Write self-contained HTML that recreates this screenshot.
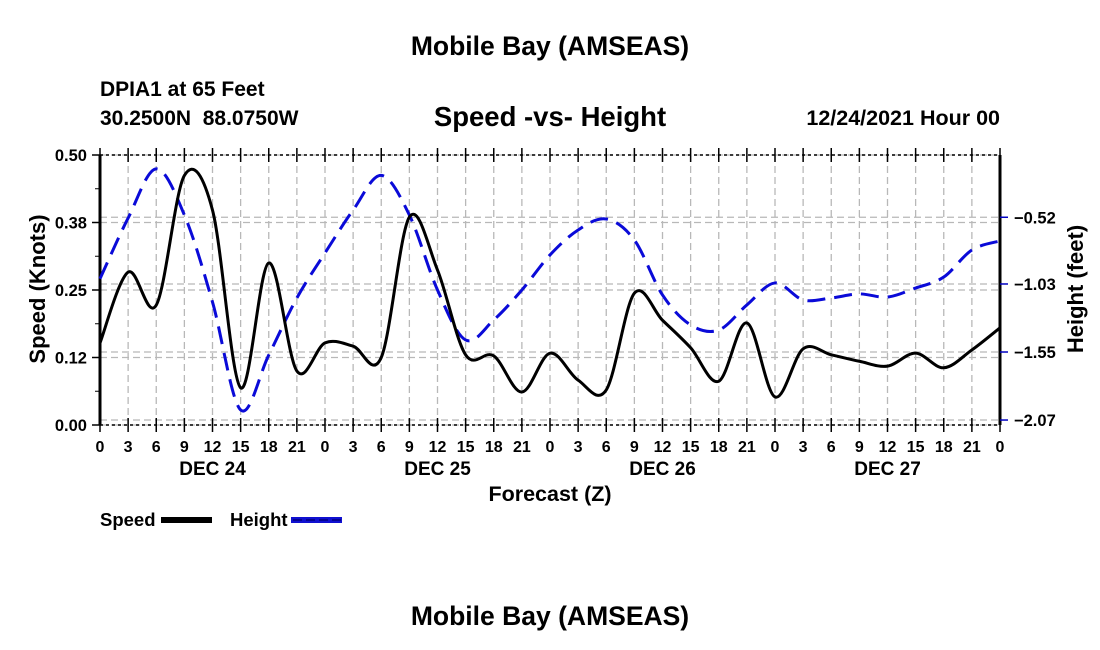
<!DOCTYPE html>
<html><head><meta charset="utf-8"><style>
html,body{margin:0;padding:0;background:#fff;}
svg{display:block;font-family:"Liberation Sans",sans-serif;font-weight:bold;}
</style></head><body>
<svg id="chart" width="1100" height="650" viewBox="0 0 1100 650" xmlns="http://www.w3.org/2000/svg">
<text x="550" y="55" text-anchor="middle" font-size="26.5">Mobile Bay (AMSEAS)</text>
<text x="100" y="96" font-size="21">DPIA1 at 65 Feet</text>
<text x="100" y="125" font-size="21" xml:space="preserve" style="white-space:pre">30.2500N  88.0750W</text>
<text x="550" y="126" text-anchor="middle" font-size="27.5">Speed -vs- Height</text>
<text x="1000" y="125" text-anchor="end" font-size="21.5">12/24/2021 Hour 00</text>
<g id="grid"></g>
<g id="axes"></g>
<g id="series"></g>
<text transform="translate(45,289) rotate(-90)" text-anchor="middle" font-size="22">Speed (Knots)</text>
<text transform="translate(1083,289) rotate(-90)" text-anchor="middle" font-size="22">Height (feet)</text>
<text x="550" y="501" text-anchor="middle" font-size="21.5">Forecast (Z)</text>
<g>
<text x="100" y="526" font-size="18.5">Speed</text>
<rect x="161" y="517" width="51" height="6" fill="#000"/>
<text x="230" y="526" font-size="18.5">Height</text>
<rect x="291" y="517" width="51" height="6" fill="#1010d0"/>
<line x1="293" y1="520" x2="342" y2="520" stroke="#000080" stroke-width="1.5" stroke-dasharray="9,4"/>
</g>
<text x="550" y="625" text-anchor="middle" font-size="26.5">Mobile Bay (AMSEAS)</text>
</svg>
<script>
const hours = [0,3,6,9,12,15,18,21,24,27,30,33,36,39,42,45,48,51,54,57,60,63,66,69,72,75,78,81,84,87,90,93,96];
const speedValues = [0.152,0.283,0.222,0.462,0.398,0.069,0.300,0.100,0.152,0.146,0.125,0.385,0.287,0.130,0.128,0.061,0.133,0.083,0.065,0.244,0.194,0.143,0.081,0.189,0.052,0.141,0.130,0.118,0.109,0.133,0.106,0.139,0.180];
const heightValues = [-0.99,-0.526,-0.15,-0.503,-1.168,-1.993,-1.573,-1.137,-0.793,-0.465,-0.20,-0.503,-1.076,-1.458,-1.305,-1.076,-0.808,-0.617,-0.533,-0.694,-1.114,-1.343,-1.382,-1.19,-1.022,-1.152,-1.137,-1.106,-1.13,-1.061,-0.977,-0.77,-0.701];
const xTickLabels = ["0","3","6","9","12","15","18","21"];
const dayLabels = ["DEC 24","DEC 25","DEC 26","DEC 27"];
const speedTicks = [0,0.125,0.25,0.375,0.5];
const speedTickLabels = ["0.00","0.12","0.25","0.38","0.50"];
const heightTicks = [-2.07,-1.55,-1.03,-0.52];
const heightTickLabels = ["\u22122.07","\u22121.55","\u22121.03","\u22120.52"];

const NS="http://www.w3.org/2000/svg";
const L=100,R=1000,T=155,B=425;
const hMin=-2.108,hMax=-0.044;
const xs=h=>L+(h/96)*(R-L);
const ys=v=>B-(v/0.5)*(B-T);
const yh=v=>B-(v-hMin)/(hMax-hMin)*(B-T);
function mk(tag,attrs,parent){const e=document.createElementNS(NS,tag);for(const k in attrs)e.setAttribute(k,attrs[k]);parent.appendChild(e);return e;}
const grid=document.getElementById('grid'),axes=document.getElementById('axes'),series=document.getElementById('series');

for(let i=1;i<32;i++){
  const l=mk('line',{x1:xs(i*3),x2:xs(i*3),y1:T,y2:B,stroke:'#b8b8b8','stroke-width':1.3,'stroke-dasharray':'7,4'},grid);
  
  
}
speedTicks.forEach(v=>{
  const l=mk('line',{x1:L,x2:R,y1:ys(v),y2:ys(v),stroke:'#b8b8b8','stroke-width':1.3,'stroke-dasharray':'7,4'},grid);
  
  
});
heightTicks.forEach(v=>{
  const l=mk('line',{x1:L,x2:R,y1:yh(v),y2:yh(v),stroke:'#b8b8b8','stroke-width':1.3,'stroke-dasharray':'7,4'},grid);
  
  
});

[[L,T,L,B,'#000',3,null],[R,T,R,B,'#000',3,null],[L,T,R,T,'#000',1.5,'3,3'],[L,B,R,B,'#000',1.5,'3,3']].forEach(a=>{
  const o={x1:a[0],y1:a[1],x2:a[2],y2:a[3],stroke:a[4],'stroke-width':a[5]};if(a[6])o['stroke-dasharray']=a[6];
  const l=mk('line',o,axes);
  
  
});
for(let i=0;i<=32;i++){
  const x=xs(i*3);
  const t=mk('line',{x1:x,x2:x,y1:B-7,y2:B+7,stroke:'#000','stroke-width':1.5},axes);
  
  
  const t2=mk('line',{x1:x,x2:x,y1:T-7,y2:T+7,stroke:'#000','stroke-width':1.5},axes);
  
  
  const tx=mk('text',{x:x,y:452,'text-anchor':'middle','font-size':16},axes);
  tx.textContent=i===32?"0":xTickLabels[i%8];
  
  
}
dayLabels.forEach((d,i)=>{
  const tx=mk('text',{x:xs(12+24*i),y:475,'text-anchor':'middle','font-size':19},axes);
  tx.textContent=d;
  
  
});
speedTicks.forEach((v,i)=>{
  const t=mk('line',{x1:L-8,x2:L,y1:ys(v),y2:ys(v),stroke:'#000','stroke-width':1.5},axes);
  
  
  if(i<4){const m=mk('line',{x1:L-5,x2:L,y1:ys(v+0.0625),y2:ys(v+0.0625),stroke:'#000','stroke-width':1},axes);
  
  }
  const tx=mk('text',{x:L-13,y:ys(v)+6,'text-anchor':'end','font-size':16.5},axes);
  tx.textContent=speedTickLabels[i];
  
  
});
heightTicks.forEach((v,i)=>{
  const t=mk('line',{x1:R,x2:R+8,y1:yh(v),y2:yh(v),stroke:'#0000c0','stroke-width':1.5},axes);
  
  
  const tx=mk('text',{x:R+14,y:yh(v)+6,'font-size':16.5},axes);
  tx.textContent=heightTickLabels[i];
  
  
});

function smooth(pts){
  let d='M'+pts[0][0]+','+pts[0][1];
  for(let i=0;i<pts.length-1;i++){
    const p0=pts[i-1]||pts[i],p1=pts[i],p2=pts[i+1],p3=pts[i+2]||p2;
    const c1=[p1[0]+(p2[0]-p0[0])/6,p1[1]+(p2[1]-p0[1])/6];
    const c2=[p2[0]-(p3[0]-p1[0])/6,p2[1]-(p3[1]-p1[1])/6];
    d+=' C'+c1.join(',')+' '+c2.join(',')+' '+p2.join(',');
  }
  return d;
}
const hp=mk('path',{d:smooth(hours.map((h,i)=>[xs(h),yh(heightValues[i])])),fill:'none',stroke:'#0a0ad8','stroke-width':3,'stroke-dasharray':'18,9'},series);


const sp=mk('path',{d:smooth(hours.map((h,i)=>[xs(h),ys(speedValues[i])])),fill:'none',stroke:'#000','stroke-width':3},series);


</script>
</body></html>
